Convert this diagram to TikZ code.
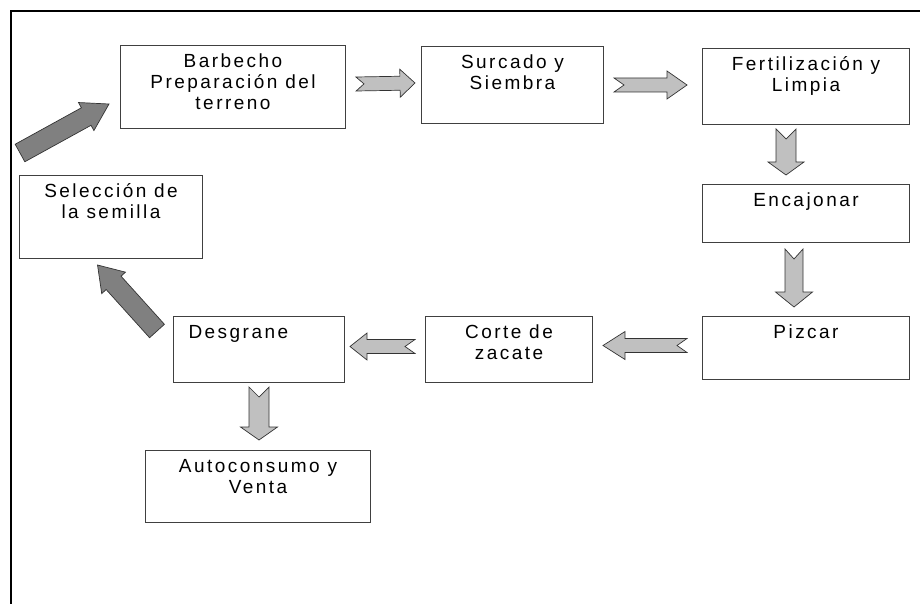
\documentclass[tikz,border=0pt]{standalone}
\usepackage{fontspec}
\setmainfont[LetterSpace=13]{Liberation Sans}
\usetikzlibrary{calc}
\definecolor{grisclaro}{RGB}{192,192,192}
\definecolor{grisoscuro}{RGB}{128,128,128}
\newcommand{\flecha}[7]{\draw[#1] let \p1=(#2), \p2=(#3), \n1={atan2(\y2-\y1,\x2-\x1)}, \n2={veclen(\x2-\x1,\y2-\y1)} in [shift={(\p1)},rotate=\n1] (0,#4) -- ({\n2-#6},#4) -- ({\n2-#6},#5) -- (\n2,0) -- ({\n2-#6},-#5) -- ({\n2-#6},-#4) -- (0,-#4) -- (#7,0) -- cycle;}
\newcommand{\arriba}{\rule{0pt}{22pt}}

\begin{document}
\begin{tikzpicture}[x=1pt,y=-1pt,font=\fontsize{19}{21}\selectfont,caja/.style={draw=black!75,line width=1pt,inner sep=0pt,anchor=north west},claro/.style={fill=grisclaro,draw=black!80,line width=0.7pt},oscuro/.style={fill=grisoscuro,draw=black!80,line width=0.7pt}]
\useasboundingbox (0,0) rectangle (920,604);
\draw[line width=2.2pt] (920,11) -| (11,604);
\node[caja] (barb) at (120,45) {\parbox[t][83pt][t]{225pt}{\centering\arriba Barbecho\\Preparación del\\terreno}};
\node[caja] (surc) at (421,46) {\parbox[t][77pt][t]{182pt}{\centering\arriba Surcado y\\Siembra}};
\node[caja] (fert) at (702,48) {\parbox[t][76pt][t]{207pt}{\centering\arriba Fertilización y\\Limpia}};
\node[caja] (enc) at (702,184) {\parbox[t][58pt][t]{207pt}{\centering\arriba Encajonar}};
\node[caja] (piz) at (702,316) {\parbox[t][63pt][t]{207pt}{\centering\arriba Pizcar}};
\node[caja] (corte) at (425,316) {\parbox[t][66pt][t]{167pt}{\centering\arriba Corte de\\zacate}};
\node[caja] (desg) at (173,316) {\parbox[t][66pt][t]{171pt}{\raggedright\arriba\hspace*{15pt}Desgrane}};
\node[caja] (auto) at (145,450) {\parbox[t][72pt][t]{225pt}{\centering\arriba Autoconsumo y\\Venta}};
\node[caja] (sel) at (19,175) {\parbox[t][83pt][t]{183pt}{\centering\arriba Selección de\\la semilla}};
\flecha{claro}{$(barb.east)+(10,-3)$}{$(surc.west)+(-6,-2)$}{7}{14}{15}{8}
\flecha{claro}{$(surc.east)+(10,0)$}{$(fert.west)+(-15,-1.5)$}{7}{14}{20}{10}
\flecha{claro}{$(fert.south)+(-20,4)$}{$(enc.north)+(-20,-9)$}{10}{18}{13}{10}
\flecha{claro}{$(enc.south)+(-12,6)$}{$(piz.north)+(-12,-9)$}{9}{18.5}{15}{10}
\flecha{claro}{$(piz.west)+(-15,-2.5)$}{$(corte.east)+(10,-4)$}{7}{14}{22}{10}
\flecha{claro}{$(corte.west)+(-10,-3)$}{$(desg.east)+(5,-3)$}{7}{13.5}{17}{10}
\flecha{claro}{$(desg.south)+(0,4)$}{$(auto.north)+(1,-10)$}{10}{18.5}{13}{10}
\flecha{oscuro}{$(desg.north west)+(-16,15)$}{$(sel.south)+(-13.5,6)$}{10}{16}{24}{0}
\flecha{oscuro}{$(sel.north west)+(1,-22)$}{$(barb.south west)+(-11,-25)$}{10}{16}{26}{0}
\end{tikzpicture}
\end{document}
